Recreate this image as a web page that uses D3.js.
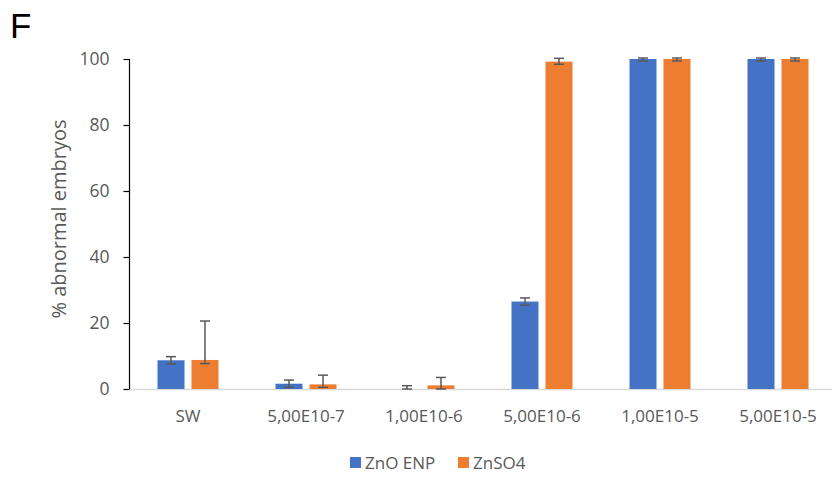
<!DOCTYPE html>
<html><head><meta charset="utf-8">
<script src="https://cdn.jsdelivr.net/npm/d3@7"></script>
<style>
html,body{margin:0;padding:0;background:#fff;}
text{font-family:"Open Sans","Noto Sans",sans-serif;}
</style></head>
<body><svg id="c" width="832" height="477"></svg>
<script>
const categories = ["SW","5,00E10-7","1,00E10-6","5,00E10-6","1,00E10-5","5,00E10-5"];
const seriesNames = ["ZnO ENP","ZnSO4"];
const znoValues = [8.7, 1.6, 0, 26.5, 100, 100];
const znoErrLow = [1.1, 1.1, 0, 1.1, 0.6, 0.6];
const znoErrHigh = [1.1, 1.1, 1.0, 1.1, 0.3, 0.3];
const znso4Values = [8.8, 1.4, 1.1, 99.2, 100, 100];
const znso4ErrLow = [1.1, 0.9, 1.1, 0.8, 0.6, 0.6];
const znso4ErrHigh = [11.8, 2.8, 2.4, 1.0, 0.3, 0.3];
const yTicks = [0,20,40,60,80,100];
const colors = ["#4472C4","#ED7D31"];

const svg = d3.select("#c");
const x = d3.scaleBand().domain(categories).range([129, 837]);
const y = d3.scaleLinear().domain([0,100]).range([389, 59]);
const inner = d3.scaleBand().domain(seriesNames).range([0, 61]).paddingInner(0.206);

const data = [
  {name: seriesNames[0], vals: znoValues, lo: znoErrLow, hi: znoErrHigh, color: colors[0]},
  {name: seriesNames[1], vals: znso4Values, lo: znso4ErrLow, hi: znso4ErrHigh, color: colors[1]}
];

// x axis line
svg.append("line").attr("x1",129).attr("x2",832).attr("y1",y(0)+0.5).attr("y2",y(0)+0.5)
  .attr("stroke","#d9d9d9").attr("stroke-width",1.5);

// bars
data.forEach(s => {
  const g = svg.append("g");
  categories.forEach((c,i) => {
    const x0 = x(c) + (x.bandwidth()-61)/2 + inner(s.name);
    const v = s.vals[i];
    if (v > 0) {
      g.append("rect").attr("x", x0).attr("y", y(v)).attr("width", inner.bandwidth())
        .attr("height", y(0)-y(v)).attr("fill", s.color);
    }
  });
});
// error bars
data.forEach(s => {
  categories.forEach((c,i) => {
    const cx = x(c) + (x.bandwidth()-61)/2 + inner(s.name) + inner.bandwidth()/2;
    const v = s.vals[i];
    const top = y(v + s.hi[i]), bot = y(Math.max(0, v - s.lo[i]));
    const g = svg.append("g").attr("stroke","#595959").attr("stroke-width",1.5);
    g.append("line").attr("x1",cx).attr("x2",cx).attr("y1",top).attr("y2",bot);
    g.append("line").attr("x1",cx-5).attr("x2",cx+5).attr("y1",top).attr("y2",top);
    g.append("line").attr("x1",cx-5).attr("x2",cx+5).attr("y1",bot).attr("y2",bot);
  });
});

// y axis
const yAxis = d3.axisLeft(y).tickValues(yTicks).tickSize(6).tickPadding(14);
const ya = svg.append("g").attr("transform","translate(129.5,0)").call(yAxis);
ya.select(".domain").attr("stroke","#000").attr("stroke-width",1.2).attr("d","M0,"+y(100)+"V"+y(0));
ya.selectAll(".tick line").attr("stroke","#000").attr("stroke-width",1.2);
ya.selectAll(".tick text").attr("fill","#595959").style("font-size","17.5px").style("font-family","'Open Sans',sans-serif");

// x labels
const xAxis = d3.axisBottom(x).tickSize(0).tickPadding(0);
const xa = svg.append("g").attr("transform","translate(0,"+y(0)+")").call(xAxis);
xa.select(".domain").remove();
xa.selectAll(".tick text").attr("fill","#595959").attr("dy",null).attr("y",33)
  .style("font-size","17px").style("font-family","'Open Sans',sans-serif");

// y title
svg.append("text").attr("transform","translate(66,219) rotate(-90)").attr("text-anchor","middle")
  .attr("fill","#595959").style("font-size","20px").text("% abnormal embryos");

// panel letter
svg.append("text").attr("x",10).attr("y",38).attr("fill","#000").style("font-size","35px")
  .style("font-family","'Liberation Sans',Arial,sans-serif").text("F");

// legend
const leg = svg.append("g");
const legX = [350, 458];
seriesNames.forEach((n,i) => {
  leg.append("rect").attr("x", legX[i]).attr("y", 457).attr("width", 11).attr("height", 11).attr("fill", colors[i]);
  leg.append("text").attr("x", legX[i]+15).attr("y", 469).attr("fill","#595959").style("font-size","17px").text(n);
});
</script></body></html>
